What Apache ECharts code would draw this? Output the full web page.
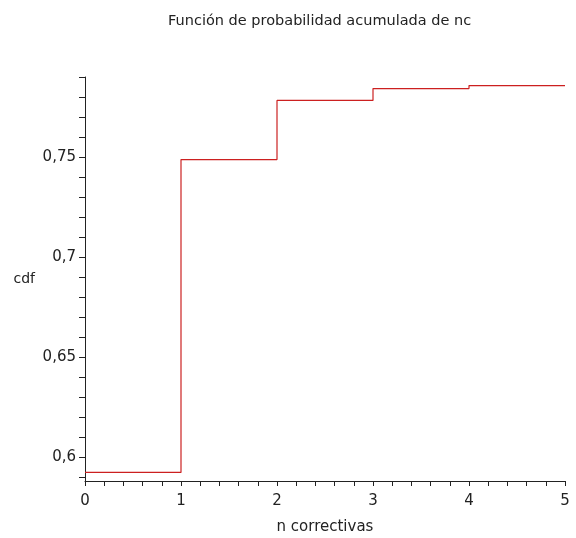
<!DOCTYPE html>
<html>
<head>
<meta charset="utf-8">
<script src="https://cdn.jsdelivr.net/npm/echarts@6/dist/echarts.min.js"></script>
<style>
  html, body { margin: 0; padding: 0; background: #fff; }
  #chart { width: 576px; height: 538px; }
</style>
</head>
<body>
<div id="chart"></div>
<script>
// Cumulative distribution of the number of corrective actions (nc)
const stepX = [0, 1, 2, 3, 4, 5];
const cdfValues = [0.5923, 0.7487, 0.7783, 0.7842, 0.7857, 0.7857];

// Axis ticks and labels
const xLabelValues = [0, 1, 2, 3, 4, 5];
const xTickValues = [0, 0.2, 0.4, 0.6, 0.8, 1, 1.2, 1.4, 1.6, 1.8, 2, 2.2, 2.4, 2.6, 2.8,
                     3, 3.2, 3.4, 3.6, 3.8, 4, 4.2, 4.4, 4.6, 4.8, 5];
const yLabelValues = [0.6, 0.65, 0.7, 0.75];
const yTickValues = [0.59, 0.6, 0.61, 0.62, 0.63, 0.64, 0.65, 0.66, 0.67, 0.68, 0.69, 0.7,
                     0.71, 0.72, 0.73, 0.74, 0.75, 0.76, 0.77, 0.78, 0.79];

const FONT = 'DejaVu Sans';
const INK = '#222';

const chart = echarts.init(document.getElementById('chart'), null, { renderer: 'canvas' });

chart.setOption({
  animation: false,
  backgroundColor: '#fff',
  title: {
    text: 'Función de probabilidad acumulada de nc',
    left: 163,
    top: 9,
    textStyle: { fontFamily: FONT, fontSize: 14.5, fontWeight: 'normal', color: INK }
  },
  grid: { left: 85, right: 11, top: 77, bottom: 57, containLabel: false, outerBoundsMode: 'none' },
  xAxis: {
    type: 'value',
    min: 0,
    max: 5,
    name: 'n correctivas',
    nameLocation: 'middle',
    nameGap: 39,
    nameTextStyle: { fontFamily: FONT, fontSize: 15, color: INK },
    splitLine: { show: false },
    axisLine: { show: true, onZero: false, lineStyle: { color: INK, width: 1 } },
    axisTick: { show: true, length: 5, customValues: xTickValues, lineStyle: { color: INK } },
    axisLabel: {
      customValues: xLabelValues,
      margin: 13,
      fontFamily: FONT, fontSize: 15, color: INK
    }
  },
  yAxis: {
    type: 'value',
    min: 0.588,
    max: 0.79,
    name: 'cdf',
    nameLocation: 'middle',
    nameRotate: 0,
    nameGap: 50,
    nameTextStyle: { fontFamily: FONT, fontSize: 14, color: INK, padding: [6, 0, 0, 0] },
    splitLine: { show: false },
    axisLine: { show: true, onZero: false, lineStyle: { color: INK, width: 1 } },
    axisTick: { show: true, length: 6, customValues: yTickValues, lineStyle: { color: INK } },
    axisLabel: {
      customValues: yLabelValues,
      margin: 9,
      fontFamily: FONT, fontSize: 15, color: INK,
      formatter: v => String(Math.round(v * 100) / 100).replace('.', ',')
    }
  },
  series: [{
    type: 'line',
    step: 'end',
    data: stepX.map((x, i) => [x, cdfValues[i]]),
    showSymbol: false,
    lineStyle: { color: '#cc2020', width: 1.2 },
    silent: true
  }]
});
</script>
</body>
</html>
